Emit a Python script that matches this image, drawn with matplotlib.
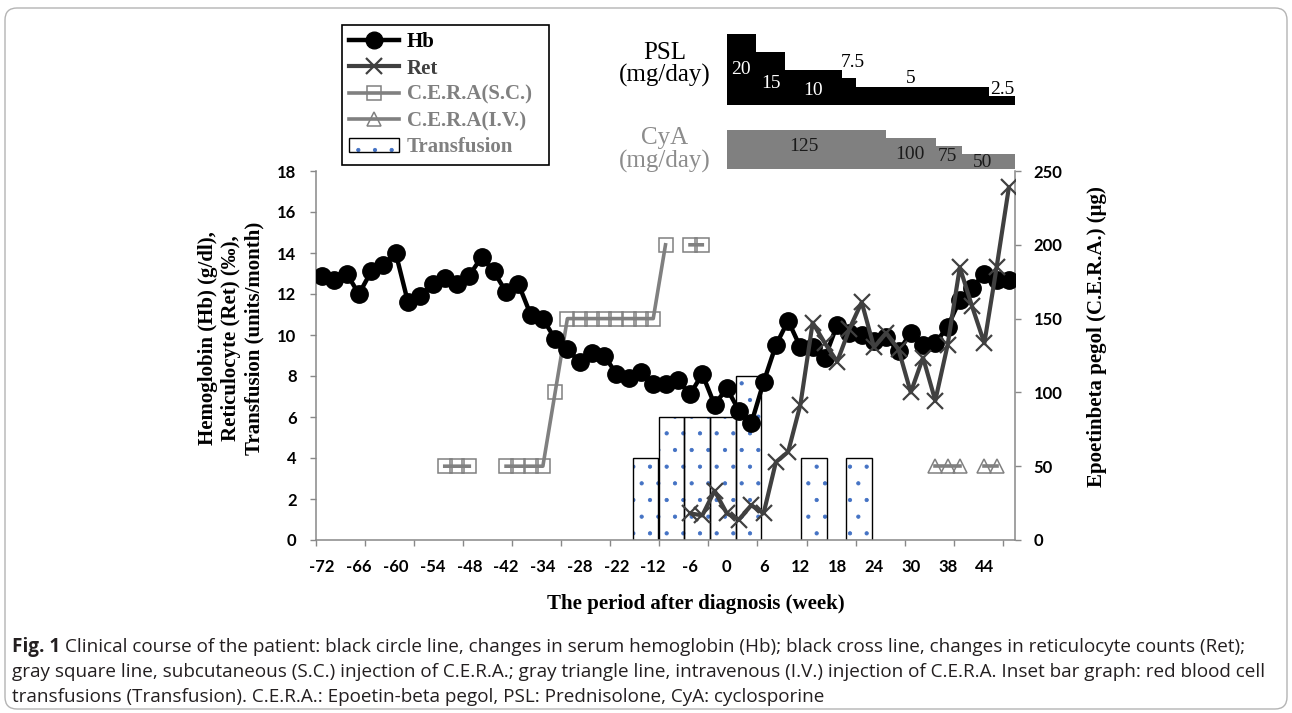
import numpy as np
import matplotlib
matplotlib.use("Agg")
import matplotlib.pyplot as plt
from matplotlib.lines import Line2D
from matplotlib.patches import Patch, FancyBboxPatch

# =========================
# DATA
# =========================
week_labels = ["-72", "-66", "-60", "-54", "-48", "-42", "-34", "-28", "-22", "-12",
               "-6", "0", "6", "12", "18", "24", "30", "38", "44"]
n_cat = 57        # points on the category axis
label_step = 3    # one week label every 3 points
tick_step = 4     # one tick mark every 4 points

hb = [12.9, 12.7, 13.0, 12.0, 13.1, 13.4, 14.0, 11.6, 11.9, 12.5,
      12.8, 12.5, 12.9, 13.8, 13.1, 12.1, 12.5, 11.0, 10.8, 9.8,
      9.3, 8.7, 9.1, 9.0, 8.1, 7.9, 8.2, 7.6, 7.6, 7.8,
      7.1, 8.1, 6.6, 7.4, 6.3, 5.7, 7.7, 9.5, 10.7, 9.4,
      9.4, 8.9, 10.5, 10.1, 10.0, 9.7, 9.9, 9.2, 10.1, 9.5,
      9.6, 10.4, 11.7, 12.3, 13.0, 12.7, 12.7]

ret = [np.nan] * 30 + [1.3, 1.2, 2.4, 1.3, 1.0, 1.7, 1.3, 3.8, 4.3, 6.6,
                       10.6, 9.6, 8.7, 10.3, 11.6, 9.4, 10.1, 9.3, 7.2, 8.9,
                       6.8, 9.5, 13.3, 11.4, 9.6, 13.3, 17.2]

n = np.nan
cera_sc = [n, n, n, n, n, n, n, n, n, n,
           50, 50, 50, n, n, 50, 50, 50, 50, 100,
           150, 150, 150, 150, 150, 150, 150, 150, 200, n,
           200, 200] + [n] * 25
cera_iv = [n] * 50 + [50, 50, 50, n, 50, 50, n]

# transfusion bars (position on the category axis, units/month)
tf_pos = [26.38, 28.48, 30.59, 32.69, 34.77, 40.1, 43.8]
tf_units = [4, 6, 6, 6, 8, 4, 4]
tf_width = 2.09

# inset dose steps (weeks at each dose)
psl_dose = [20, 15, 10, 7.5, 5, 2.5]
psl_weeks = [4.2, 4.1, 8.1, 2.0, 19.0, 3.7]
cya_dose = [125, 100, 75, 50]
cya_weeks = [22.7, 7.2, 3.7, 7.5]

caption = [
    ("Fig. 1", "Clinical course of the patient: black circle line, changes in serum hemoglobin (Hb); "
               "black cross line, changes in reticulocyte counts (Ret);"),
    ("", "gray square line, subcutaneous (S.C.) injection of C.E.R.A.; gray triangle line, "
         "intravenous (I.V.) injection of C.E.R.A. Inset bar graph: red blood cell"),
    ("", "transfusions (Transfusion). C.E.R.A.: Epoetin-beta pegol, PSL: Prednisolone, CyA: cyclosporine"),
]

# =========================
# STYLE
# =========================
W, H = 1292, 713
plt.rcParams['font.family'] = ['Lato', 'DejaVu Sans']
plt.rcParams['font.weight'] = 'bold'
plt.rcParams['hatch.linewidth'] = 0.6
serif = ['Liberation Serif', 'DejaVu Serif']
axis_gray = '#888888'
c_hb, c_ret, c_cera = 'black', '#404040', '#808080'

fig = plt.figure(figsize=(W / 100, H / 100), dpi=100)

# outer rounded frame
bg = fig.add_axes([0, 0, 1, 1], zorder=-10)
bg.set_xlim(0, W)
bg.set_ylim(H, 0)
bg.axis('off')
bg.add_patch(FancyBboxPatch((5, 8), 1282, 701, boxstyle="round,pad=0,rounding_size=12",
                            fc='none', ec='#b4b4b4', lw=1))

# =========================
# MAIN AXES
# =========================
ax = fig.add_axes([316 / W, 1 - 540 / H, (1015 - 316) / W, (540 - 171) / H])
ax2 = ax.twinx()
ax.set_zorder(ax2.get_zorder() + 1)
ax.patch.set_visible(False)

x = np.arange(n_cat)

# transfusion bars: dotted fill + black outline
ax.bar(tf_pos, tf_units, width=tf_width, color='white', edgecolor='#4472C4',
       hatch='.', linewidth=0, zorder=1)
ax.bar(tf_pos, tf_units, width=tf_width, color='none', edgecolor='black',
       linewidth=1.0, zorder=1.5)

ax.plot(x, hb, color=c_hb, lw=3.2, marker='o', ms=12.5, zorder=3)
ax.plot(x, ret, color=c_ret, lw=3.0, marker='x', ms=11, mew=1.6, zorder=4)

ax2.plot(x, cera_sc, color=c_cera, lw=2.6, marker='s', ms=10.5, mfc='none', mew=1.1)
ax2.plot(x, cera_iv, color=c_cera, lw=2.6, marker='^', ms=10.5, mfc='none', mew=1.1)

ax.set_xlim(-0.5, n_cat - 0.5)
ax.set_ylim(0, 18)
ax.set_yticks(range(0, 19, 2))
ax2.set_ylim(0, 250)
ax2.set_yticks(range(0, 251, 50))

ax.set_xticks(np.arange(0, n_cat, label_step)[:len(week_labels)])
ax.set_xticklabels(week_labels)
ax.set_xticks(np.arange(-0.5, n_cat - 0.5, tick_step), minor=True)
ax.tick_params(axis='x', which='major', length=0, pad=14, labelsize=12)
ax.tick_params(axis='x', which='minor', length=4.5, width=1, color=axis_gray)
ax.tick_params(axis='y', length=4, width=1, color=axis_gray, pad=10, labelsize=12)
ax2.tick_params(axis='y', length=4, width=1, color=axis_gray, pad=9.5, labelsize=12)

for s in ['top', 'right']:
    ax.spines[s].set_visible(False)
for s in ['top', 'left', 'bottom']:
    ax2.spines[s].set_visible(False)
for sp in [ax.spines['left'], ax.spines['bottom'], ax2.spines['right']]:
    sp.set_color(axis_gray)
    sp.set_linewidth(1.1)

# axis titles
lab = dict(family=serif, weight='bold', size=15, ha='center', va='center')
fig.text(231 / W, 1 - 338 / H, "Hemoglobin (Hb) (g/dl),\nReticulocyte (Ret) (‰),\nTransfusion (units/month)",
         rotation=90, multialignment='center', **lab)
fig.text(1097 / W, 1 - 337 / H, "Epoetinbeta pegol (C.E.R.A.) (μg)", rotation=90, **lab)
fig.text(696 / W, 1 - 604 / H, "The period after diagnosis (week)", **lab)

# =========================
# LEGEND
# =========================
handles = [
    Line2D([], [], color=c_hb, lw=3.2, marker='o', ms=12),
    Line2D([], [], color=c_ret, lw=3.0, marker='x', ms=11, mew=1.6),
    Line2D([], [], color=c_cera, lw=2.6, marker='s', ms=10.5, mfc='none', mew=1.1),
    Line2D([], [], color=c_cera, lw=2.6, marker='^', ms=10.5, mfc='none', mew=1.1),
    (Patch(facecolor='white', edgecolor='#4472C4', hatch='.', linewidth=0),
     Patch(facecolor='none', edgecolor='black', linewidth=1.0)),
]
labels = ["Hb", "Ret", "C.E.R.A(S.C.)", "C.E.R.A(I.V.)", "Transfusion"]
fig.legend(handles, labels, loc='upper left',
           bbox_to_anchor=(342 / W, 1 - 25 / H - 0.01, (549 - 342) / W, 0.01), mode='expand',
           prop=dict(family=serif, weight='bold', size=15),
           labelcolor=[c_hb, c_ret, c_cera, c_cera, c_cera],
           frameon=True, fancybox=False, edgecolor='black', framealpha=1,
           borderaxespad=0, handlelength=2.4, handletextpad=0.35,
           labelspacing=0.3, borderpad=0.35)
fig.legends[0].get_frame().set_linewidth(1.2)

# =========================
# PSL / CyA INSETS
# =========================
inset_left, inset_w = 726.7 / W, (1015 - 726.7) / W
ax_psl = fig.add_axes([inset_left, 1 - 105 / H, inset_w, 71 / H])
ax_cya = fig.add_axes([inset_left, 1 - 169.3 / H, inset_w, 39.3 / H])

psl_left = np.concatenate([[0], np.cumsum(psl_weeks)[:-1]])
ax_psl.bar(psl_left, psl_dose, width=psl_weeks, align='edge', color='black', linewidth=0)
ax_psl.set_xlim(0, sum(psl_weeks))
ax_psl.set_ylim(0, max(psl_dose))
ax_psl.axis('off')

cya_left = np.concatenate([[0], np.cumsum(cya_weeks)[:-1]])
ax_cya.bar(cya_left, cya_dose, width=cya_weeks, align='edge', color='#808080', linewidth=0)
ax_cya.set_xlim(0, sum(cya_weeks))
ax_cya.set_ylim(0, max(cya_dose))
ax_cya.axis('off')

num = dict(family=serif, weight='normal', size=14, ha='center', va='center')
psl_text_y = [9.9, 6.1, 4.2, 11.9, 7.5, 4.5]
psl_text_c = ['white', 'white', 'white', 'black', 'black', 'black']
psl_text_dx = [0, 0, 0, 0.6, -1.7, 0]
for i, d in enumerate(psl_dose):
    ax_psl.text(psl_left[i] + psl_weeks[i] / 2 + psl_text_dx[i], psl_text_y[i], f"{d:g}",
                color=psl_text_c[i], **num)

cya_text_y = [72, 45.5, 42.3, 21]
cya_text_dx = [-0.4, -0.2, -0.35, -0.9]
for i, d in enumerate(cya_dose):
    ax_cya.text(cya_left[i] + cya_weeks[i] / 2 + cya_text_dx[i], cya_text_y[i], f"{d:g}",
                color='#1a1a1a', **num)

fig.text(665 / W, 1 - 64.5 / H, "PSL\n(mg/day)", family=serif, weight='normal', size=18,
         ha='center', va='center', linespacing=1.0, color='black')
fig.text(665 / W, 1 - 150 / H, "CyA\n(mg/day)", family=serif, weight='normal', size=18,
         ha='center', va='center', linespacing=1.0, color='#8c8c8c')

# =========================
# CAPTION
# =========================
renderer = fig.canvas.get_renderer()
cap_font = ['Open Sans', 'DejaVu Sans']
cap_color = '#231f20'
cap_y = [647, 672, 697]


def draw_caption(size):
    objs = []
    right = 0
    for (bold, rest), yy in zip(caption, cap_y):
        x0 = 12
        if bold:
            tb = fig.text(x0 / W, 1 - yy / H, bold, family=cap_font, weight='bold', size=size,
                          color=cap_color, va='center')
            objs.append(tb)
            x0 = tb.get_window_extent(renderer).x1 + size * 0.35
        tr = fig.text(x0 / W, 1 - yy / H, rest, family=cap_font, weight='normal', size=size,
                      color=cap_color, va='center')
        objs.append(tr)
        right = max(right, tr.get_window_extent(renderer).x1)
    return objs, right


objs, right = draw_caption(11)
for o in objs:
    o.remove()
size = 11 * (1268 - 12) / (right - 12)
draw_caption(size)

fig.savefig("out.png", dpi=100)
